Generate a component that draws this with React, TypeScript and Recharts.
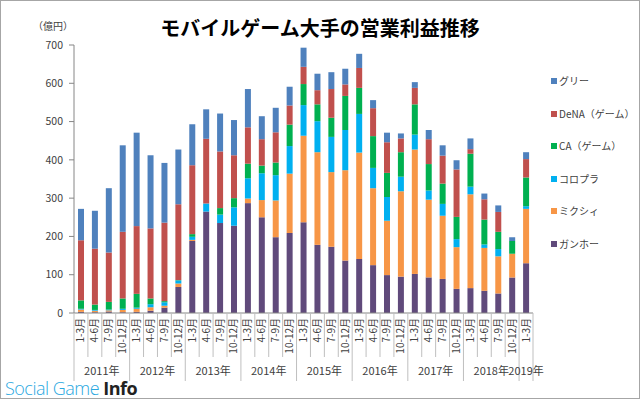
import { BarChart, Bar, XAxis, YAxis } from 'recharts'

const months = [
  '1-3月', '4-6月', '7-9月', '10-12月',
  '1-3月', '4-6月', '7-9月', '10-12月',
  '1-3月', '4-6月', '7-9月', '10-12月',
  '1-3月', '4-6月', '7-9月', '10-12月',
  '1-3月', '4-6月', '7-9月', '10-12月',
  '1-3月', '4-6月', '7-9月', '10-12月',
  '1-3月', '4-6月', '7-9月', '10-12月',
  '1-3月', '4-6月', '7-9月', '10-12月',
  '1-3月',
]
const years = ['2011年', '2012年', '2013年', '2014年', '2015年', '2016年', '2017年', '2018年', '2019年']

// 億円, bottom to top of each stack
const gungho = [3, 2, 4, 2, 3, 6, 14, 68, 188, 265, 235, 228, 287, 250, 198, 209, 237, 178, 173, 137, 141, 125, 99, 95, 102, 93, 89, 63, 65, 58, 51, 93, 130]
const mixi = [6, 4, 3, 6, 8, 9, 5, 9, 3, 0, 0, 0, 12, 45, 96, 155, 226, 242, 195, 236, 278, 201, 142, 223, 325, 203, 165, 109, 245, 112, 97, 62, 142]
const colopl = [2, 2, 2, 3, 3, 8, 9, 8, 8, 21, 22, 48, 53, 70, 66, 72, 80, 81, 92, 105, 101, 53, 62, 38, 39, 24, 31, 21, 20, 9, 19, 0, 7]
const ca = [22, 14, 20, 27, 36, 15, 3, 1, 7, 0, 17, 24, 38, 20, 33, 56, 55, 44, 50, 89, 68, 83, 63, 64, 79, 69, 53, 58, 86, 65, 45, 33, 75]
const dena = [157, 146, 129, 174, 177, 183, 205, 198, 180, 169, 148, 112, 95, 69, 79, 50, 45, 37, 75, 30, 52, 73, 80, 36, 43, 65, 73, 124, 12, 53, 52, 0, 48]
const gree = [82, 99, 168, 226, 244, 191, 156, 143, 107, 77, 99, 92, 100, 60, 64, 49, 50, 43, 44, 41, 37, 21, 25, 13, 15, 24, 27, 24, 28, 15, 17, 10, 18]

const yTicks = [0, 100, 200, 300, 400, 500, 600, 700]

const series = [
  { key: 'gungho', name: 'ガンホー', color: '#604A7B' },
  { key: 'mixi', name: 'ミクシィ', color: '#F79646' },
  { key: 'colopl', name: 'コロプラ', color: '#00B0F0' },
  { key: 'ca', name: 'CA（ゲーム）', color: '#00B050' },
  { key: 'dena', name: 'DeNA（ゲーム）', color: '#C0504D' },
  { key: 'gree', name: 'グリー', color: '#4F81BD' },
]

const data = months.map((m, i) => ({
  month: m,
  year: years[Math.floor(i / 4)],
  gungho: gungho[i],
  mixi: mixi[i],
  colopl: colopl[i],
  ca: ca[i],
  dena: dena[i],
  gree: gree[i],
}))

const FONT = '"Noto Sans CJK JP", "Noto Sans", sans-serif'
const LEFT = 14
const YW = 60
const RIGHT = 107
const BAND = (640 - LEFT - YW - RIGHT) / months.length
const AXIS_Y = 313

const MonthTick = ({ x, payload, index }: any) => {
  const i = payload?.index ?? index
  const left = x - BAND / 2
  const isYearStart = i % 4 === 0
  const isLast = i === months.length - 1
  const yearIdx = Math.floor(i / 4)
  let yearX: number | null = null
  if (i % 4 === 1) yearX = x + BAND / 2
  if (isLast && i % 4 === 0) yearX = x
  return (
    <g>
      <line x1={left} x2={left} y1={AXIS_Y} y2={isYearStart ? 381 : 357} stroke="#bfbfbf" />
      {isLast && <line x1={x + BAND / 2} x2={x + BAND / 2} y1={AXIS_Y} y2={381} stroke="#bfbfbf" />}
      <text
        transform={`translate(${x + 3.5},${AXIS_Y + 5}) rotate(-90)`}
        textAnchor="end"
        fontSize={10}
        fill="#404040"
        fontFamily={FONT}
      >
        {payload.value}
      </text>
      {yearX !== null && (
        <text x={yearX} y={375} textAnchor="middle" fontSize={11} fill="#404040" fontFamily={FONT}>
          {years[yearIdx]}
        </text>
      )}
    </g>
  )
}

const LegendList = () => (
  <div style={{ position: 'absolute', left: 550, top: 73, fontFamily: FONT, fontSize: 10, color: '#404040' }}>
    {[...series].reverse().map((s) => (
      <div key={s.key} style={{ height: 32.5, display: 'flex', alignItems: 'flex-start' }}>
        <span style={{ width: 6, height: 6, background: s.color, display: 'inline-block', marginTop: 4, marginRight: 2 }} />
        <span style={{ lineHeight: '14px', whiteSpace: 'nowrap' }}>{s.name}</span>
      </div>
    ))}
  </div>
)

const App = () => {
  return (
    <div
      style={{
        position: 'absolute',
        left: 0,
        top: 0,
        width: 640,
        height: 399,
        boxSizing: 'border-box',
        border: '1px solid #a6a6a6',
        background: '#fff',
        overflow: 'hidden',
      }}
    >
      <div style={{ position: 'absolute', left: -1, top: -1 }}>
        <BarChart
          width={640}
          height={399}
          data={data}
          margin={{ top: 45, right: RIGHT, left: LEFT, bottom: 16 }}
          barSize={6}
        >
          <text x={320} y={36} textAnchor="middle" fontSize={20} fontWeight="bold" fill="#000" fontFamily={FONT}>
            モバイルゲーム大手の営業利益推移
          </text>
          <text x={53} y={30} textAnchor="middle" fontSize={10} fill="#404040" fontFamily={FONT}>
            （億円）
          </text>
          <XAxis
            dataKey="month"
            interval={0}
            height={70}
            tickSize={0}
            tickMargin={0}
            tickLine={false}
            axisLine={{ stroke: '#868686' }}
            tick={<MonthTick />}
          />
          <YAxis
            width={YW}
            domain={[0, 700]}
            ticks={yTicks}
            interval={0}
            tickSize={5}
            tickMargin={6}
            axisLine={{ stroke: '#868686' }}
            tickLine={{ stroke: '#868686' }}
            tick={{ fontSize: 10.5, fill: '#404040', fontFamily: FONT }}
          />
          {series.map((s) => (
            <Bar key={s.key} dataKey={s.key} name={s.name} stackId="a" fill={s.color} isAnimationActive={false} />
          ))}
        </BarChart>
      </div>
      <LegendList />
      <div
        style={{
          position: 'absolute',
          left: 4,
          top: 378,
          fontFamily: '"Open Sans", Lato, sans-serif',
          fontSize: 18,
          lineHeight: '18px',
          letterSpacing: -0.5,
        }}
      >
        <span style={{ color: '#29A8DF', fontWeight: 300 }}>Social Game </span>
        <span style={{ color: '#222', fontWeight: 700 }}>Info</span>
      </div>
    </div>
  )
}

export default App
